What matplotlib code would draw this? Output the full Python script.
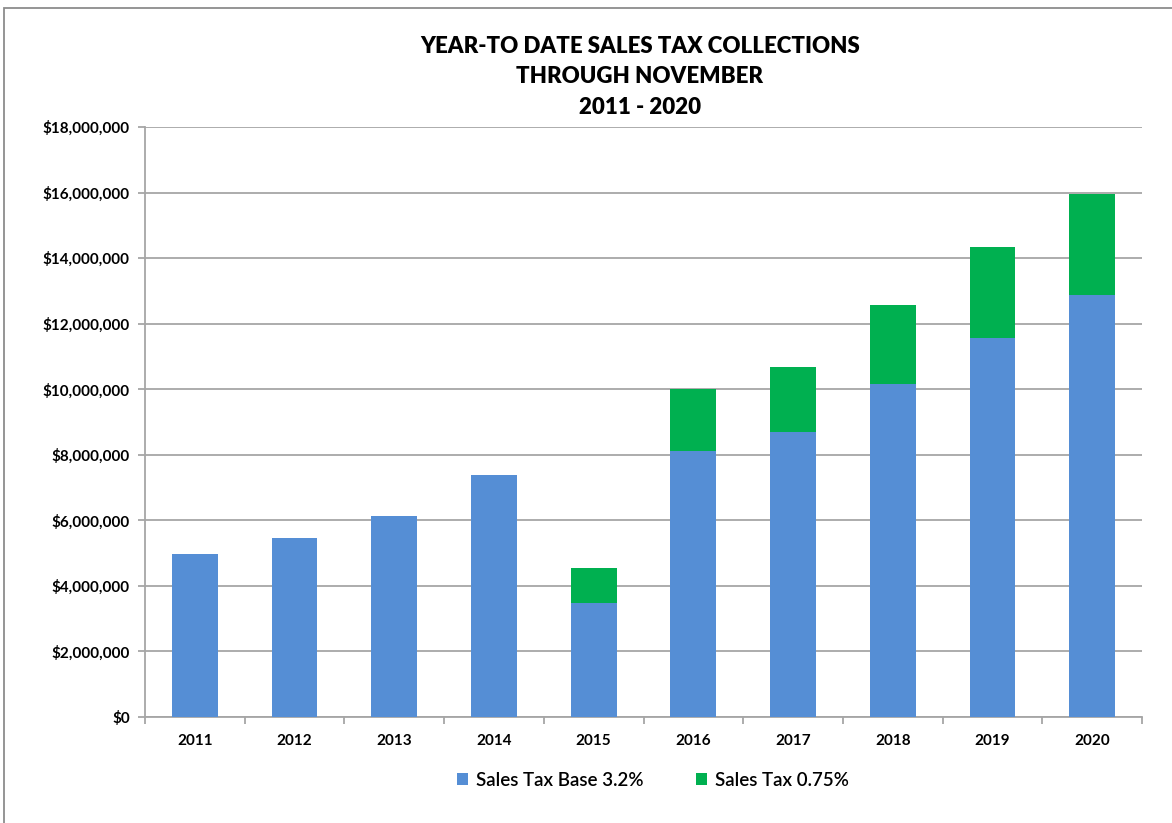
import matplotlib.pyplot as plt
from matplotlib.ticker import FuncFormatter, MultipleLocator, FixedLocator
from matplotlib.patches import Rectangle

# YTD collections through November
years = ["2011", "2012", "2013", "2014", "2015", "2016", "2017", "2018", "2019", "2020"]
base_32 = [4960000, 5450000, 6120000, 7380000, 3470000, 8110000, 8680000, 10170000, 11570000, 12860000]
tax_075 = [0, 0, 0, 0, 1070000, 1890000, 2010000, 2400000, 2780000, 3100000]

blue = "#558ED5"
green = "#00B050"
grid_col = "#A6A6A6"

plt.rcParams['font.family'] = ['Lato', 'DejaVu Sans']

fig = plt.figure(figsize=(11.72, 8.23), dpi=100)
ax = fig.add_axes([145 / 1172, 1 - 717 / 823, 997 / 1172, 590 / 823])

x = range(len(years))
ax.bar(x, base_32, width=0.46, color=blue, label="Sales Tax Base 3.2%", zorder=3)
ax.bar(x, tax_075, width=0.46, bottom=base_32, color=green, label="Sales Tax 0.75%", zorder=3)

ax.set_xlim(-0.5, len(years) - 0.5)
ax.set_ylim(0, 18000000)
ax.yaxis.set_major_locator(MultipleLocator(2000000))
ax.yaxis.set_major_formatter(FuncFormatter(lambda v, p: "${:,.0f}".format(v)))
ax.grid(axis="y", color=grid_col, linewidth=1.3, zorder=0)

ax.set_xticks(list(x))
ax.set_xticklabels(years, fontweight="bold", fontsize=11)
ax.tick_params(axis="x", which="major", length=0, pad=12)
ax.xaxis.set_minor_locator(FixedLocator([i + 0.5 for i in range(-1, len(years))]))
ax.tick_params(axis="x", which="minor", length=5, color=grid_col, width=1.3)
ax.tick_params(axis="y", length=5, color=grid_col, width=1.3, labelsize=11, pad=6)
for lbl in ax.get_yticklabels():
    lbl.set_fontweight("bold")

for side in ["top", "right"]:
    ax.spines[side].set_visible(False)
ax.spines["left"].set_color(grid_col)
ax.spines["bottom"].set_color(grid_col)
ax.spines["left"].set_linewidth(1.3)
ax.spines["bottom"].set_linewidth(1.3)

title_lines = ["YEAR-TO DATE SALES TAX COLLECTIONS", "THROUGH NOVEMBER", "2011 - 2020"]
for i, line in enumerate(title_lines):
    fig.text(0.546, 0.944 - i * 0.0375, line, ha="center", va="center",
             fontsize=16, fontweight="heavy")

fig.legend(loc="center", bbox_to_anchor=(0.557, 0.052), ncol=2, frameon=False,
           prop={"size": 13.5, "weight": "semibold"}, handlelength=0.6, handleheight=0.6,
           columnspacing=2.8, handletextpad=0.4)

# outer chart border
fig.patches.append(Rectangle((4 / 1172, -0.1), 1.2, 1.1 - 8 / 823, transform=fig.transFigure,
                             fill=False, edgecolor="#8C8C8C", linewidth=1.3))

fig.savefig("out.png", dpi=100)
